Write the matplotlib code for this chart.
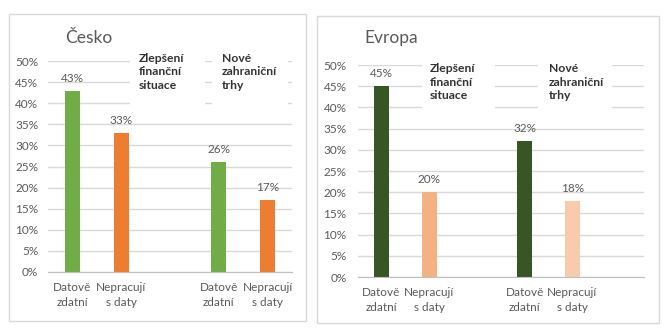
import matplotlib.pyplot as plt
from matplotlib.patches import Rectangle
from matplotlib.ticker import PercentFormatter

plt.rcParams['font.family'] = ['Lato', 'DejaVu Sans']

# data
groups = ['Zlepšení\nfinanční\nsituace', 'Nové\nzahraniční\ntrhy']
segments = ['Datově\nzdatní', 'Nepracují\ns daty']
cesko = [[43, 33], [26, 17]]
evropa = [[45, 20], [32, 18]]
cesko_colors = [['#70AD47', '#ED7D31'], ['#70AD47', '#ED7D31']]
evropa_colors = [['#375623', '#F4B183'], ['#375623', '#F8CBAD']]

W, H = 669, 335
text_col = '#595959'
grid_col = '#D9D9D9'


def fx(px):
    return px / W


def fy(px):
    return 1 - px / H


fig = plt.figure(figsize=(W / 100, H / 100), dpi=100)

# panel borders
for x0, y0, x1, y1 in [(9, 14, 306, 321), (317, 16, 659, 323)]:
    fig.patches.append(Rectangle((fx(x0), fy(y1)), fx(x1 - x0), (y1 - y0) / H,
                                 transform=fig.transFigure, fill=False,
                                 edgecolor=grid_col, lw=1))


def draw_panel(rect, values, colors, title, title_pos, n_slots, boxes, label_x, label_top, ypad):
    ax = fig.add_axes(rect)
    xs, hs, cs, labels = [], [], [], [''] * n_slots
    for i, (vals, cols) in enumerate(zip(values, colors)):
        for j, (v, c) in enumerate(zip(vals, cols)):
            pos = i * 3 + j
            xs.append(pos)
            hs.append(v)
            cs.append(c)
            labels[pos] = segments[j]
    bars = ax.bar(xs, hs, width=0.31, color=cs, zorder=2)
    for b, v in zip(bars, hs):
        ax.annotate(f'{v}%', (b.get_x() + b.get_width() / 2, v), xytext=(0, 5),
                    textcoords='offset points', ha='center', va='bottom',
                    fontsize=8.5, color=text_col)
    ax.set_xlim(-0.5, n_slots - 0.5)
    ax.set_ylim(0, 50)
    ax.set_yticks(range(0, 51, 5))
    ax.yaxis.set_major_formatter(PercentFormatter(decimals=0))
    ax.set_xticks(range(n_slots))
    ax.set_xticklabels(labels, fontsize=8.5, color=text_col, linespacing=1.35)
    ax.tick_params(axis='y', length=0, pad=ypad, labelsize=8.5, labelcolor=text_col)
    ax.tick_params(axis='x', length=0, pad=7.5)
    ax.grid(axis='y', color=grid_col, lw=1, zorder=0)
    ax.set_axisbelow(True)
    for s in ['left', 'right', 'top']:
        ax.spines[s].set_visible(False)
    ax.spines['bottom'].set_color('#BFBFBF')
    # white boxes with group labels
    for (bx0, bx1, by0, by1), lx, g in zip(boxes, label_x, groups):
        ax.add_patch(Rectangle((bx0, by0), bx1 - bx0, by1 - by0, transform=ax.transAxes,
                               facecolor='white', edgecolor='none', zorder=1, clip_on=False))
        ax.text(lx, label_top, g, transform=ax.transAxes, ha='left', va='top',
                fontsize=8.7, fontweight='bold', color='#333333', linespacing=1.3, zorder=3)
    fig.text(title_pos[0], title_pos[1], title, fontsize=12.5, color=text_col, va='baseline')
    return ax


# left panel (Česko)
draw_panel([fx(48), fy(272), fx(244), 211 / H], cesko, cesko_colors, 'Česko',
           (fx(65), fy(43)), 5,
           [(0.336, 0.643, 0.77, 1.03), (0.672, 0.984, 0.77, 1.03)],
           [0.373, 0.713], 1.04, 7)

# right panel (Evropa)
draw_panel([fx(357.6), fy(277), fx(286.4), 212 / H], evropa, evropa_colors, 'Evropa',
           (fx(364), fy(43)), 6,
           [(0.225, 0.480, 0.765, 1.03), (0.630, 0.888, 0.765, 1.03)],
           [0.253, 0.668], 1.01, 8)

fig.savefig('out.png', dpi=100)
